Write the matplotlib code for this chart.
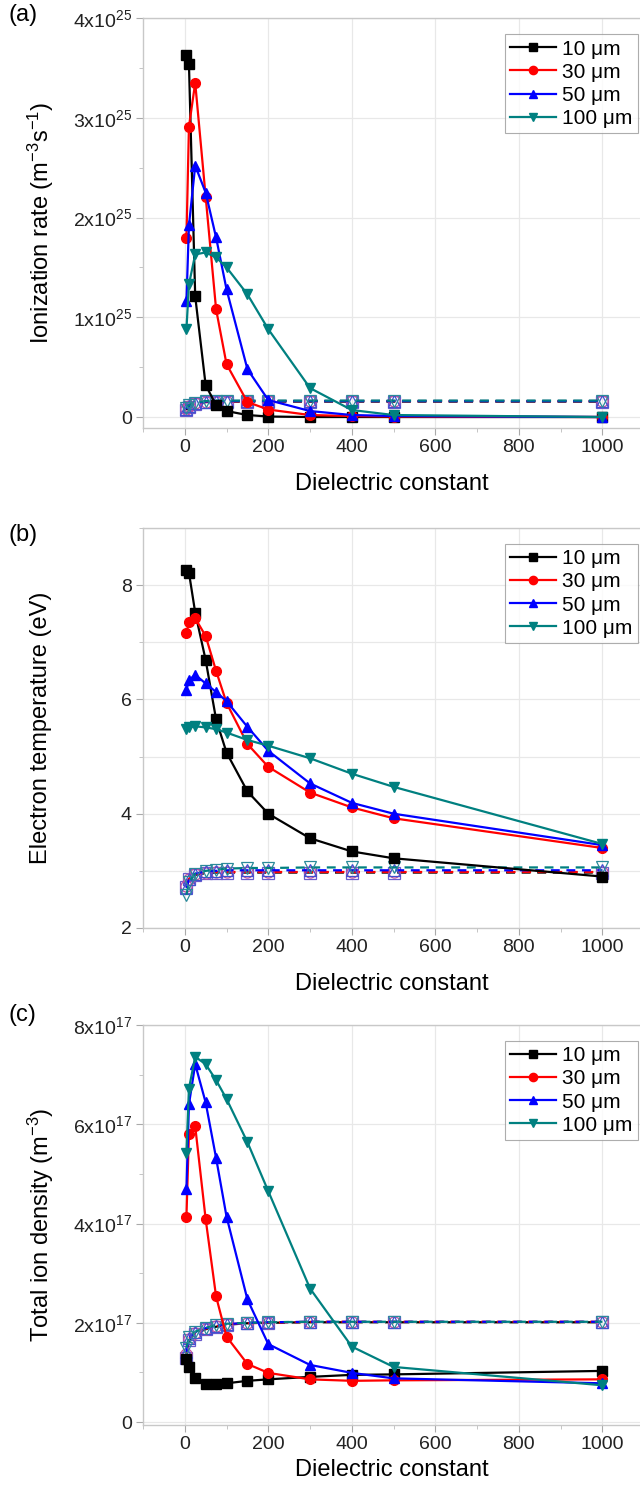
import matplotlib
matplotlib.use('Agg')
import matplotlib.pyplot as plt
from matplotlib.ticker import MultipleLocator, FixedLocator, FuncFormatter

plt.rcParams['font.family'] = ['Liberation Sans', 'DejaVu Sans']
plt.rcParams['mathtext.fontset'] = 'custom'
plt.rcParams['mathtext.rm'] = 'Liberation Sans'
plt.rcParams['mathtext.it'] = 'Liberation Sans:italic'
plt.rcParams['mathtext.default'] = 'regular'

# dielectric constant (x)
eps = [4, 10, 25, 50, 75, 100, 150, 200, 300, 400, 500, 1000]
labels = ['10 μm', '30 μm', '50 μm', '100 μm']

# (a) ionization rate, units of 1e25 m^-3 s^-1
ion_10 = [3.63, 3.54, 1.21, 0.32, 0.12, 0.06, 0.02, 0.005, 0.0, 0.0, 0.0, 0.0]
ion_30 = [1.79, 2.91, 3.35, 2.21, 1.08, 0.53, 0.15, 0.075, 0.02, 0.01, 0.005, 0.0]
ion_50 = [1.16, 1.92, 2.52, 2.25, 1.80, 1.28, 0.48, 0.17, 0.06, 0.02, 0.01, 0.0]
ion_100 = [0.88, 1.33, 1.63, 1.65, 1.60, 1.50, 1.23, 0.88, 0.29, 0.07, 0.02, 0.0]
ion_ref_10 = [0.07, 0.10, 0.13, 0.15, 0.155, 0.155, 0.155, 0.155, 0.155, 0.155, 0.155, 0.155]
ion_ref_30 = [0.08, 0.11, 0.14, 0.15, 0.155, 0.155, 0.16, 0.16, 0.16, 0.16, 0.16, 0.16]
ion_ref_50 = [0.08, 0.11, 0.14, 0.155, 0.16, 0.16, 0.16, 0.16, 0.16, 0.16, 0.16, 0.16]
ion_ref_100 = [0.09, 0.12, 0.145, 0.16, 0.165, 0.165, 0.165, 0.165, 0.165, 0.165, 0.165, 0.165]

# (b) electron temperature, eV
te_10 = [8.26, 8.22, 7.52, 6.69, 5.65, 5.07, 4.39, 4.00, 3.57, 3.34, 3.22, 2.90]
te_30 = [7.16, 7.36, 7.42, 7.11, 6.50, 5.94, 5.22, 4.82, 4.37, 4.11, 3.92, 3.40]
te_50 = [6.16, 6.34, 6.43, 6.28, 6.13, 5.97, 5.52, 5.10, 4.53, 4.19, 4.00, 3.45]
te_100 = [5.48, 5.51, 5.53, 5.51, 5.48, 5.42, 5.29, 5.19, 4.97, 4.70, 4.47, 3.47]
te_ref_10 = [2.72, 2.85, 2.93, 2.96, 2.97, 2.97, 2.97, 2.97, 2.97, 2.97, 2.97, 2.97]
te_ref_30 = [2.74, 2.86, 2.94, 2.97, 2.98, 2.98, 2.98, 2.98, 2.98, 2.98, 2.98, 2.98]
te_ref_50 = [2.70, 2.85, 2.95, 2.99, 3.0, 3.01, 3.01, 3.01, 3.01, 3.01, 3.01, 3.01]
te_ref_100 = [2.58, 2.80, 2.95, 3.0, 3.02, 3.04, 3.05, 3.05, 3.06, 3.06, 3.06, 3.06]

# (c) total ion density, units of 1e17 m^-3
ni_10 = [1.26, 1.10, 0.88, 0.76, 0.76, 0.78, 0.83, 0.86, 0.91, 0.95, 0.96, 1.03]
ni_30 = [4.13, 5.81, 5.96, 4.09, 2.53, 1.72, 1.17, 0.99, 0.86, 0.83, 0.84, 0.86]
ni_50 = [4.69, 6.40, 7.21, 6.44, 5.32, 4.14, 2.47, 1.57, 1.15, 0.99, 0.88, 0.78]
ni_100 = [5.43, 6.72, 7.36, 7.21, 6.89, 6.51, 5.64, 4.65, 2.69, 1.52, 1.11, 0.74]
ni_ref_10 = [1.30, 1.65, 1.78, 1.87, 1.92, 1.96, 1.99, 2.00, 2.01, 2.01, 2.01, 2.01]
ni_ref_30 = [1.38, 1.68, 1.80, 1.88, 1.93, 1.97, 1.99, 2.00, 2.02, 2.02, 2.02, 2.02]
ni_ref_50 = [1.41, 1.70, 1.81, 1.89, 1.94, 1.97, 2.00, 2.01, 2.02, 2.02, 2.02, 2.02]
ni_ref_100 = [1.50, 1.72, 1.82, 1.90, 1.95, 1.98, 2.00, 2.01, 2.02, 2.02, 2.02, 2.02]

colors = ['black', '#ff0000', '#0000ff', '#008080']
markers = ['s', 'o', '^', 'v']
ref_edges = ['#6a5acd', '#c050a0', '#4050d0', '#2a8a9a']


def sci_fmt(exp):
    def f(v, pos):
        m = int(round(v))
        if m == 0:
            return '0'
        return '%dx10$^{%d}$' % (m, exp)
    return f


def draw_panel(ax, solid, refs, scale, xpad=12):
    for ys, c, mk, ec in zip(refs, colors, markers, ref_edges):
        ax.plot(eps, [v * scale for v in ys], color=c, lw=1.6, dashes=(4, 3),
                marker=mk, ms=8, mfc='none', mec=ec, mew=0.9, zorder=2)
    for ys, c, mk, lab in zip(solid, colors, markers, labels):
        ax.plot(eps, [v * scale for v in ys], color=c, lw=1.6, marker=mk,
                ms=7, mec=c, label=lab, zorder=3)
    ax.set_xlim(-100, 1090)
    ax.xaxis.set_major_locator(MultipleLocator(200))
    ax.xaxis.set_minor_locator(MultipleLocator(100))
    ax.grid(True, which='major', color='#e8e8e8', lw=0.9, zorder=0)
    ax.set_axisbelow(True)
    for s in ['left', 'bottom', 'top']:
        ax.spines[s].set_color('#c8c8c8')
        ax.spines[s].set_linewidth(1.0)
    ax.spines['right'].set_visible(False)
    ax.tick_params(which='major', direction='out', length=5, width=0.8,
                   color='#aaaaaa', labelsize=14, labelcolor='#222222', pad=3)
    ax.tick_params(which='minor', direction='out', length=3, width=0.6,
                   color='#bbbbbb')
    ax.set_xlabel('Dielectric constant', fontsize=17, labelpad=xpad)
    leg = ax.legend(loc='upper right', bbox_to_anchor=(0.995, 0.96),
                    fontsize=15, frameon=True, fancybox=False,
                    handlelength=2.2, handletextpad=0.3, labelspacing=0.2,
                    borderpad=0.25, borderaxespad=0.0, markerscale=0.85)
    leg.get_frame().set_edgecolor('#999999')
    leg.get_frame().set_linewidth(0.8)


fig = plt.figure(figsize=(6.4, 14.88), dpi=100)
H = 1488.0
L = 143 / 640.0
W = 497 / 640.0

ax1 = fig.add_axes([L, 1 - 428 / H, W, 410 / H])
draw_panel(ax1, [ion_10, ion_30, ion_50, ion_100],
           [ion_ref_10, ion_ref_30, ion_ref_50, ion_ref_100], 1e25)
ax1.set_ylim(-0.11e25, 4e25)
ax1.yaxis.set_major_locator(MultipleLocator(1e25))
ax1.yaxis.set_minor_locator(MultipleLocator(0.5e25))
ax1.yaxis.set_major_formatter(FuncFormatter(lambda v, p: sci_fmt(25)(v / 1e25, p)))

ax2 = fig.add_axes([L, 1 - 928 / H, W, 400 / H])
draw_panel(ax2, [te_10, te_30, te_50, te_100],
           [te_ref_10, te_ref_30, te_ref_50, te_ref_100], 1.0)
ax2.set_ylim(2, 9)
ax2.yaxis.set_major_locator(MultipleLocator(2))
ax2.yaxis.set_minor_locator(FixedLocator([3, 5, 7, 9]))
ax2.grid(True, which='minor', axis='y', color='#e8e8e8', lw=0.9)

ax3 = fig.add_axes([L, 1 - 1425 / H, W, 400 / H])
draw_panel(ax3, [ni_10, ni_30, ni_50, ni_100],
           [ni_ref_10, ni_ref_30, ni_ref_50, ni_ref_100], 1e17, xpad=4)
ax3.set_ylim(-0.06e17, 8e17)
ax3.yaxis.set_major_locator(MultipleLocator(2e17))
ax3.yaxis.set_minor_locator(MultipleLocator(1e17))
ax3.yaxis.set_major_formatter(FuncFormatter(lambda v, p: sci_fmt(17)(v / 1e17, p)))

ylabels = ['Ionization rate (m$^{-3}$s$^{-1}$)', 'Electron temperature (eV)',
           'Total ion density (m$^{-3}$)']
tags = ['(a)', '(b)', '(c)']
for ax, yl, tag, ytag in zip([ax1, ax2, ax3], ylabels, tags, [15, 535, 1015]):
    pos = ax.get_position()
    fig.text(41 / 640.0, (pos.y0 + pos.y1) / 2, yl, rotation=90, fontsize=17,
             ha='center', va='center')
    fig.text(8 / 640.0, 1 - ytag / H, tag, fontsize=17, ha='left', va='center')

fig.savefig('out.png', dpi=100)
plt.close(fig)
